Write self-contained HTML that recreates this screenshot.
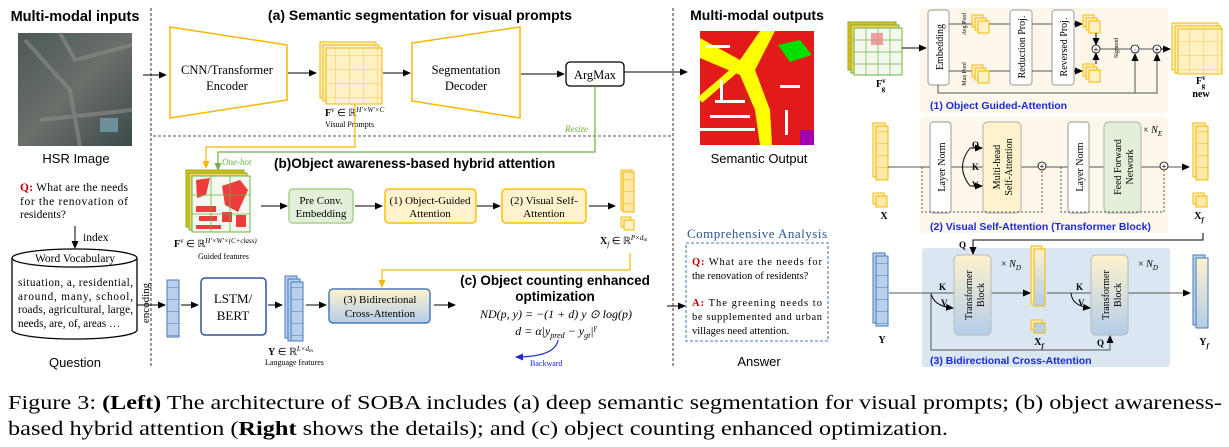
<!DOCTYPE html>
<html><head><meta charset="utf-8"><style>
html,body{margin:0;padding:0;background:#fff;}
svg{display:block;}
.s{font-family:"Liberation Serif","Times New Roman","Nimbus Roman",Times,serif;}
.a{font-family:"Liberation Sans",Arial,sans-serif;}
</style></head><body>
<svg width="1229" height="447" viewBox="0 0 1229 447" xmlns="http://www.w3.org/2000/svg">
<defs>
<marker id="ar" markerWidth="8" markerHeight="8" refX="7" refY="4" orient="auto" markerUnits="userSpaceOnUse"><path d="M0,0.5 L8,4 L0,7.5z" fill="#000"/></marker>
<marker id="arb" markerWidth="8" markerHeight="8" refX="7" refY="4" orient="auto" markerUnits="userSpaceOnUse"><path d="M0,0.5 L8,4 L0,7.5z" fill="#1a2bd6"/></marker>
<marker id="ary" markerWidth="8" markerHeight="8" refX="7" refY="4" orient="auto" markerUnits="userSpaceOnUse"><path d="M0,0.5 L8,4 L0,7.5z" fill="#f5b800"/></marker>
<marker id="arg" markerWidth="8" markerHeight="8" refX="7" refY="4" orient="auto" markerUnits="userSpaceOnUse"><path d="M0,0.5 L8,4 L0,7.5z" fill="#6cb33f"/></marker>
<linearGradient id="yb" x1="0" y1="0" x2="0" y2="1"><stop offset="0" stop-color="#fff2cc"/><stop offset="1" stop-color="#b4cde9"/></linearGradient>
<linearGradient id="hsr" x1="0" y1="0" x2="1" y2="1"><stop offset="0" stop-color="#4a5a55"/><stop offset="0.5" stop-color="#6b6f6a"/><stop offset="1" stop-color="#3c4a4c"/></linearGradient>
<pattern id="grid" width="14" height="14" patternUnits="userSpaceOnUse"><rect width="14" height="14" fill="#fff1c4"/><path d="M14,0V14H0" fill="none" stroke="#f7c948" stroke-width="1"/></pattern>
<pattern id="gridb" width="12" height="12" patternUnits="userSpaceOnUse"><rect width="12" height="12" fill="#b8d0ec"/><path d="M0,12H12" fill="none" stroke="#4a7ab8" stroke-width="1"/></pattern>
<pattern id="gridy" width="12" height="12" patternUnits="userSpaceOnUse"><rect width="12" height="12" fill="#ffe9a8"/><path d="M0,12H12" fill="none" stroke="#f5b800" stroke-width="1"/></pattern>
</defs>

<line x1="151" y1="8" x2="151" y2="368" stroke="#333" stroke-dasharray="3,2" stroke-width="1"/>
<line x1="673" y1="8" x2="673" y2="368" stroke="#333" stroke-dasharray="3,2" stroke-width="1"/>
<line x1="153" y1="136" x2="672" y2="136" stroke="#555" stroke-dasharray="3,2" stroke-width="1"/>

<text x="75" y="21" class="a" font-size="14.5" font-weight="bold" text-anchor="middle">Multi-modal inputs</text>
<rect x="18" y="33" width="114" height="113" fill="url(#hsr)"/>
<path d="M25,40 L70,90 L80,146 M60,33 L75,60 L132,45 M40,120 L132,110" stroke="#8a8d88" stroke-width="4" fill="none" opacity="0.6"/>
<rect x="100" y="118" width="18" height="14" fill="#7aa7b7" opacity="0.7"/>
<text x="76" y="163" class="a" font-size="13" text-anchor="middle">HSR Image</text>
<text class="s" font-size="11.5"><tspan x="20" y="191" textLength="108"><tspan fill="#c00000" font-weight="bold">Q:</tspan> What are the needs</tspan><tspan x="20" y="205" textLength="108">for the renovation of</tspan><tspan x="20" y="218">residents?</tspan></text>
<line x1="75" y1="226" x2="75" y2="248" stroke="#000" marker-end="url(#ar)"/>
<text x="83" y="241" class="s" font-size="11.5">index</text>
<path d="M12,258 L12,330 A62.5,9 0 0 0 137,330 L137,258" fill="#fff" stroke="#000" stroke-width="1.3"/>
<ellipse cx="74.5" cy="258" rx="62.5" ry="9" fill="#fff" stroke="#000" stroke-width="1.3"/>
<text x="75" y="262" class="s" font-size="11.5" text-anchor="middle">Word Vocabulary</text>
<text class="s" font-size="11.2"><tspan x="18" y="286" textLength="115">situation, a, residential,</tspan><tspan x="18" y="300" textLength="115">around, many, school,</tspan><tspan x="18" y="313" textLength="115">roads, agricultural, large,</tspan><tspan x="18" y="327">needs, are, of, areas …</tspan></text>
<text x="75" y="367" class="a" font-size="13" text-anchor="middle">Question</text>
<text transform="translate(149,303) rotate(-90)" class="s" font-size="11" text-anchor="middle">encoding</text>
<line x1="137" y1="305" x2="165" y2="305" stroke="#000" marker-end="url(#ar)"/>

<text x="420" y="20" class="a" font-size="14" font-weight="bold" text-anchor="middle">(a) Semantic segmentation for visual prompts</text>
<line x1="143" y1="75" x2="166" y2="75" stroke="#000" marker-end="url(#ar)"/>
<path d="M170,27 L287,45 L287,100 L170,118z" fill="#fff" stroke="#f5b800" stroke-width="1.5"/>
<text x="227" y="74" class="s" font-size="12.5" text-anchor="middle">CNN/Transformer</text>
<text x="227" y="90" class="s" font-size="12.5" text-anchor="middle">Encoder</text>
<line x1="288" y1="73" x2="316" y2="73" stroke="#000" marker-end="url(#ar)"/>
<g stroke="#f5b800" stroke-width="1">
<rect x="320" y="42" width="56" height="56" fill="#fff1c4"/><rect x="323" y="45" width="56" height="56" fill="#fff1c4"/>
<rect x="326" y="48" width="56" height="56" fill="url(#grid)"/></g>
<text x="325" y="116" class="s" font-size="10"><tspan font-weight="bold">F</tspan><tspan font-size="7" dy="-4">v</tspan><tspan dy="4"> ∈ ℝ</tspan><tspan font-size="7" dy="-4" font-style="italic">H′×W′×C</tspan></text>
<text x="325" y="127" class="s" font-size="8">Visual Prompts</text>
<line x1="383" y1="73" x2="410" y2="73" stroke="#000" marker-end="url(#ar)"/>
<path d="M412,43 L520,27 L520,118 L412,101z" fill="#fff" stroke="#f5b800" stroke-width="1.5"/>
<text x="466" y="74" class="s" font-size="12.5" text-anchor="middle">Segmentation</text>
<text x="466" y="90" class="s" font-size="12.5" text-anchor="middle">Decoder</text>
<line x1="521" y1="74" x2="564" y2="74" stroke="#000" marker-end="url(#ar)"/>
<rect x="566" y="62" width="58" height="24" rx="4" fill="#fff" stroke="#000" stroke-width="1.3"/>
<text x="595" y="79" class="s" font-size="12.5" text-anchor="middle">ArgMax</text>
<line x1="624" y1="72" x2="687" y2="72" stroke="#000" marker-end="url(#ar)"/>
<polyline points="595,86 595,152 218,152 218,170" fill="none" stroke="#6cb33f" stroke-width="1.2" marker-end="url(#arg)"/>
<text x="565" y="132" class="s" font-size="9" font-style="italic" fill="#6cb33f">Resize</text>
<polyline points="355,104 355,147 206,147 206,168" fill="none" stroke="#f5b800" stroke-width="1.2" marker-end="url(#ary)"/>
<text x="222" y="165" class="s" font-size="9" font-style="italic" fill="#6cb33f">One-hot</text>

<text x="274" y="168" class="a" font-size="13.5" font-weight="bold">(b)Object awareness-based hybrid attention</text>
<g stroke="#6cb33f" stroke-width="1">
<rect x="186" y="170" width="58" height="57" fill="#f5b800"/><rect x="189" y="173" width="58" height="57" fill="#f9cf5a"/>
<rect x="192" y="176" width="58" height="56" fill="#f4f8ef"/></g>
<g fill="#ee3b3b"><path d="M196,180 L210,178 L206,195 L197,198z"/><path d="M222,186 L240,180 L248,190 L238,212 L225,205z"/><rect x="196" y="206" width="20" height="6"/><rect x="199" y="216" width="18" height="5"/><rect x="222" y="212" width="10" height="10"/><rect x="236" y="215" width="10" height="12"/><rect x="196" y="225" width="25" height="4"/></g>
<path d="M192,195 H250 M192,214 H250 M211,176 V232 M230,176 V232" stroke="#6cb33f" stroke-width="0.8"/>
<text x="174" y="247" class="s" font-size="10"><tspan font-weight="bold">F</tspan><tspan font-size="7" dy="-4">v</tspan><tspan dy="4"> ∈ ℝ</tspan><tspan font-size="7" dy="-4" font-style="italic">H′×W′×(C+class)</tspan></text>
<text x="198" y="259" class="s" font-size="8">Guided features</text>
<line x1="261" y1="206" x2="287" y2="206" stroke="#000" marker-end="url(#ar)"/>
<rect x="289" y="189" width="64" height="34" rx="4" fill="#e2efd9" stroke="#a9d18e" stroke-width="1.5"/>
<text x="321" y="204" class="s" font-size="11" text-anchor="middle">Pre Conv.</text>
<text x="321" y="217" class="s" font-size="11" text-anchor="middle">Embedding</text>
<line x1="355" y1="206" x2="382" y2="206" stroke="#000" marker-end="url(#ar)"/>
<rect x="385" y="189" width="91" height="34" rx="4" fill="#fff2cc" stroke="#ffc000" stroke-width="1.5"/>
<text x="430" y="204" class="s" font-size="11" text-anchor="middle">(1) Object-Guided</text>
<text x="430" y="217" class="s" font-size="11" text-anchor="middle">Attention</text>
<line x1="477" y1="206" x2="500" y2="206" stroke="#000" marker-end="url(#ar)"/>
<rect x="502" y="189" width="84" height="34" rx="4" fill="#fff2cc" stroke="#ffc000" stroke-width="1.5"/>
<text x="544" y="204" class="s" font-size="11" text-anchor="middle">(2) Visual Self-</text>
<text x="544" y="217" class="s" font-size="11" text-anchor="middle">Attention</text>
<line x1="589" y1="206" x2="615" y2="206" stroke="#000" marker-end="url(#ar)"/>
<g stroke="#f5b800"><rect x="621" y="170" width="11" height="40" fill="#fff1c4"/><rect x="623" y="172" width="11" height="40" fill="url(#gridy)"/>
<rect x="621" y="217" width="10" height="10" fill="#fff1c4"/><rect x="624" y="220" width="10" height="10" fill="#fff1c4"/></g>
<text x="600" y="244" class="s" font-size="10"><tspan font-weight="bold">X</tspan><tspan font-size="7" dy="3" font-style="italic">f</tspan><tspan dy="-3"> ∈ ℝ</tspan><tspan font-size="7" dy="-4" font-style="italic">P×d</tspan><tspan font-size="5" dy="1">m</tspan></text>
<polyline points="630,253 630,270 382,270 382,287" fill="none" stroke="#f5b800" stroke-width="1.2" marker-end="url(#ary)"/>

<rect x="167" y="280" width="12" height="57" fill="url(#gridb)" stroke="#4a7ab8"/>
<line x1="181" y1="305" x2="198" y2="305" stroke="#000" marker-end="url(#ar)"/>
<rect x="201" y="278" width="65" height="57" rx="4" fill="#fff" stroke="#2f5597" stroke-width="1.5"/>
<text x="233" y="303" class="s" font-size="13" text-anchor="middle">LSTM/</text>
<text x="233" y="320" class="s" font-size="13" text-anchor="middle">BERT</text>
<line x1="268" y1="305" x2="282" y2="305" stroke="#000" marker-end="url(#ar)"/>
<g stroke="#4a7ab8"><rect x="285" y="276" width="12" height="62" fill="#b8d0ec"/><rect x="288" y="279" width="12" height="62" fill="#b8d0ec"/><rect x="291" y="282" width="12" height="59" fill="url(#gridb)"/></g>
<text x="268" y="355" class="s" font-size="10"><tspan font-weight="bold">Y</tspan><tspan> ∈ ℝ</tspan><tspan font-size="7" dy="-4" font-style="italic">L×d</tspan><tspan font-size="5" dy="1">m</tspan></text>
<text x="265" y="365" class="s" font-size="8">Language features</text>
<line x1="306" y1="305" x2="326" y2="305" stroke="#000" marker-end="url(#ar)"/>
<rect x="329" y="289" width="101" height="34" rx="4" fill="url(#yb)" stroke="#4a7ab8" stroke-width="1.5"/>
<text x="380" y="303" class="s" font-size="11" text-anchor="middle">(3) Bidirectional</text>
<text x="380" y="317" class="s" font-size="11" text-anchor="middle">Cross-Attention</text>
<line x1="434" y1="305" x2="455" y2="305" stroke="#000" marker-end="url(#ar)"/>

<text x="555" y="285" class="a" font-size="13.5" font-weight="bold" text-anchor="middle">(c) Object counting enhanced</text>
<text x="555" y="301" class="a" font-size="13.5" font-weight="bold" text-anchor="middle">optimization</text>
<text x="556" y="318" class="s" font-size="12" font-style="italic" text-anchor="middle">ND(p, y) = −(1 + d) y ⊙ log(p)</text>
<text x="556" y="335" class="s" font-size="12" font-style="italic" text-anchor="middle">d = α|y<tspan font-size="8" dy="3">pred</tspan><tspan dy="-3"> − y</tspan><tspan font-size="8" dy="3">gt</tspan><tspan dy="-3">|</tspan><tspan font-size="8" dy="-5">γ</tspan></text>
<path d="M558,340 Q555,357 516,357" fill="none" stroke="#1a2bd6" stroke-width="1.2" marker-end="url(#arb)"/>
<text x="530" y="366" class="s" font-size="8" fill="#1a2bd6">Backward</text>
<line x1="667" y1="306" x2="685" y2="306" stroke="#000" marker-end="url(#ar)"/>

<text x="757" y="20" class="a" font-size="14" font-weight="bold" text-anchor="middle">Multi-modal outputs</text>
<rect x="700" y="31" width="114" height="114" fill="#e31a1a"/>
<path d="M700,38 L740,60 L760,31 L775,31 L755,70 L770,110 L772,145 L760,145 L755,110 L740,75 L700,58z" fill="#ffff00"/>
<path d="M735,70 L700,100" stroke="#ffff00" stroke-width="7"/>
<g fill="#fff"><rect x="715" y="100" width="30" height="3"/><rect x="710" y="115" width="40" height="3"/><rect x="780" y="85" width="20" height="3"/><rect x="700" y="128" width="55" height="3"/><rect x="785" y="110" width="3" height="25"/><rect x="720" y="80" width="3" height="20"/><rect x="705" y="45" width="25" height="3"/></g>
<path d="M778,45 L800,40 L812,55 L790,62z" fill="#00e000"/>
<rect x="800" y="130" width="14" height="15" fill="#a000b0"/>
<text x="759" y="163" class="a" font-size="13" text-anchor="middle">Semantic Output</text>
<text x="687" y="238" class="s" font-size="13" fill="#2f5597" textLength="140">Comprehensive Analysis</text>
<rect x="686" y="243" width="142" height="98" fill="none" stroke="#4a7ab8" stroke-dasharray="3,2" stroke-width="1.1"/>
<text class="s" font-size="10.5"><tspan x="692" y="265" textLength="130"><tspan fill="#c00000" font-weight="bold">Q:</tspan> What are the needs for</tspan><tspan x="692" y="279">the renovation of residents?</tspan>
<tspan x="692" y="306" textLength="130"><tspan fill="#c00000" font-weight="bold">A:</tspan> The greening needs to</tspan><tspan x="692" y="320" textLength="130">be supplemented and urban</tspan><tspan x="692" y="334">villages need attention.</tspan></text>
<text x="759" y="366" class="a" font-size="13" text-anchor="middle">Answer</text>

<rect x="920" y="8" width="248" height="105" rx="3" fill="#fdf6ea"/>
<g stroke="#6cb33f"><rect x="848" y="22" width="48" height="48" fill="#f5b800"/><rect x="851" y="25" width="48" height="48" fill="#f9cf5a"/><rect x="854" y="28" width="48" height="47" fill="#f4f8ef"/>
<path d="M854,40 H902 M854,52 H902 M854,64 H902 M866,28 V75 M878,28 V75 M890,28 V75" stroke-width="0.7"/></g>
<rect x="871" y="33" width="12" height="12" fill="#e88" opacity="0.8"/>
<text x="876" y="87" class="s" font-size="10" font-weight="bold">F<tspan font-size="7" dy="-4">v</tspan><tspan font-size="7" dx="-4" dy="8">g</tspan></text>
<line x1="902" y1="48" x2="926" y2="48" stroke="#000" marker-end="url(#ar)"/>
<g fill="#fff" stroke="#aaa" stroke-width="1.2">
<rect x="928" y="10" width="21" height="75" rx="3"/><rect x="1010" y="10" width="22" height="75" rx="3"/><rect x="1052" y="10" width="22" height="75" rx="3"/></g>
<text transform="translate(943,47) rotate(-90)" class="s" font-size="10" text-anchor="middle">Embedding</text>
<text transform="translate(1025,47) rotate(-90)" class="s" font-size="10" text-anchor="middle">Reduction Proj.</text>
<text transform="translate(1067,47) rotate(-90)" class="s" font-size="10" text-anchor="middle">Reversed Proj.</text>
<path d="M949,24 H1010 M949,71 H1010 M1032,24 H1052 M1032,71 H1052" stroke="#555" stroke-width="1"/>
<text transform="translate(966,24) rotate(-90)" class="s" font-size="6" text-anchor="middle">Avg Pool</text>
<text transform="translate(966,74) rotate(-90)" class="s" font-size="6" text-anchor="middle">Max Pool</text>
<g stroke="#f5b800" fill="#fff1c4"><rect x="972" y="15" width="11" height="12"/><rect x="975" y="18" width="11" height="12"/><rect x="978" y="21" width="11" height="12"/>
<rect x="972" y="65" width="11" height="12"/><rect x="975" y="68" width="11" height="12"/><rect x="978" y="71" width="11" height="12"/>
<rect x="1083" y="15" width="11" height="12"/><rect x="1086" y="18" width="11" height="12"/><rect x="1089" y="21" width="11" height="12"/>
<rect x="1083" y="64" width="11" height="12"/><rect x="1086" y="67" width="11" height="12"/><rect x="1089" y="70" width="11" height="12"/></g>
<line x1="1074" y1="24" x2="1082" y2="24" stroke="#000" marker-end="url(#ar)"/>
<line x1="1074" y1="71" x2="1082" y2="71" stroke="#000" marker-end="url(#ar)"/>
<line x1="1096" y1="33" x2="1096" y2="45" stroke="#000" marker-end="url(#ar)"/>
<line x1="1096" y1="64" x2="1096" y2="53" stroke="#000" marker-end="url(#ar)"/>
<g fill="#fff" stroke="#000" stroke-width="0.8"><circle cx="1096" cy="49" r="4"/><circle cx="1135" cy="49" r="4"/><circle cx="1157" cy="49" r="4"/></g>
<text x="1096" y="52" font-size="8" text-anchor="middle" class="a">+</text><text x="1135" y="52" font-size="8" text-anchor="middle" class="a">·</text><text x="1157" y="52" font-size="8" text-anchor="middle" class="a">+</text>
<path d="M1100,49 H1131 M1139,49 H1153" stroke="#555"/>
<text transform="translate(1118,48) rotate(-90)" class="s" font-size="6" text-anchor="middle">Sigmoid</text>
<polyline points="938,85 938,93 1157,93 1157,54" fill="none" stroke="#555" marker-end="url(#ar)"/>
<line x1="1135" y1="93" x2="1135" y2="54" stroke="#555" marker-end="url(#ar)"/>
<line x1="1161" y1="49" x2="1170" y2="49" stroke="#000" marker-end="url(#ar)"/>
<g stroke="#f5b800"><rect x="1172" y="23" width="46" height="47" fill="#fff1c4"/><rect x="1175" y="26" width="46" height="47" fill="#fff1c4"/><rect x="1178" y="29" width="44" height="45" fill="url(#grid)"/></g>
<text x="1196" y="84" class="s" font-size="10" font-weight="bold">F<tspan font-size="7" dy="-4">v</tspan><tspan font-size="7" dx="-4" dy="8">g</tspan></text>
<text x="1201" y="97" class="s" font-size="10" font-weight="bold" text-anchor="middle">new</text>
<text x="930" y="109" class="a" font-size="10.5" font-weight="bold" fill="#1a2bd6">(1) Object Guided-Attention</text>

<rect x="920" y="117" width="248" height="116" rx="3" fill="#fdf6ea"/>
<g stroke="#f5b800"><rect x="873" y="123" width="12" height="54" fill="#fff1c4"/><rect x="876" y="126" width="12" height="54" fill="url(#gridy)"/>
<rect x="873" y="193" width="11" height="11" fill="#fff1c4"/><rect x="876" y="196" width="11" height="11" fill="#ffe9a8"/>
<rect x="1193" y="123" width="12" height="54" fill="#fff1c4"/><rect x="1196" y="126" width="12" height="54" fill="url(#gridy)"/>
<rect x="1193" y="193" width="11" height="11" fill="#fff1c4"/><rect x="1196" y="196" width="11" height="11" fill="#ffe9a8"/></g>
<text x="884" y="219" class="s" font-size="10" font-weight="bold" text-anchor="middle">X</text>
<text x="1199" y="219" class="s" font-size="10" font-weight="bold" text-anchor="middle">X<tspan font-size="7" dy="3" font-style="italic">f</tspan></text>
<line x1="888" y1="167" x2="1189" y2="167" stroke="#555" marker-end="url(#ar)"/>
<rect x="930" y="122" width="21" height="91" rx="3" fill="#fff" stroke="#aaa" stroke-width="1.2"/>
<text transform="translate(945,167) rotate(-90)" class="s" font-size="10" text-anchor="middle">Layer Norm</text>
<rect x="983" y="122" width="38" height="91" rx="5" fill="#fff2cc" stroke="#bbb" stroke-width="1.2"/>
<text transform="translate(1000,167) rotate(-90)" class="s" font-size="10" text-anchor="middle">Multi-head</text>
<text transform="translate(1012,167) rotate(-90)" class="s" font-size="10" text-anchor="middle">Self-Attention</text>
<path d="M970,148 Q955,167 970,186" fill="none" stroke="#000"/>
<line x1="970" y1="148" x2="982" y2="148" stroke="#000" marker-end="url(#ar)"/><line x1="970" y1="186" x2="982" y2="186" stroke="#000" marker-end="url(#ar)"/>
<text x="972" y="148" class="s" font-size="9" font-weight="bold">Q</text><text x="972" y="170" class="s" font-size="9" font-weight="bold">K</text><text x="972" y="188" class="s" font-size="9" font-weight="bold">V</text>
<rect x="1068" y="122" width="21" height="91" rx="3" fill="#fff" stroke="#aaa" stroke-width="1.2"/>
<text transform="translate(1083,167) rotate(-90)" class="s" font-size="10" text-anchor="middle">Layer Norm</text>
<rect x="1104" y="122" width="37" height="91" rx="5" fill="#e2efd9" stroke="#bbb" stroke-width="1.2"/>
<text transform="translate(1121,167) rotate(-90)" class="s" font-size="10" text-anchor="middle">Feed Forward</text>
<text transform="translate(1133,167) rotate(-90)" class="s" font-size="10" text-anchor="middle">Network</text>
<text x="1143" y="133" class="s" font-size="10">× <tspan font-style="italic">N</tspan><tspan font-size="7" dy="3" font-style="italic">E</tspan></text>
<g fill="#fff" stroke="#000" stroke-width="0.8"><circle cx="1042" cy="166" r="4"/><circle cx="1164" cy="166" r="4"/></g>
<text x="1042" y="169" font-size="8" text-anchor="middle" class="a">+</text><text x="1164" y="169" font-size="8" text-anchor="middle" class="a">+</text>
<polyline points="922,167 922,212 1042,212 1042,171" fill="none" stroke="#555" stroke-dasharray="2,2"/>
<polyline points="1061,167 1061,212 1164,212 1164,171" fill="none" stroke="#555" stroke-dasharray="2,2"/>
<text x="930" y="230" class="a" font-size="10.5" font-weight="bold" fill="#1a2bd6">(2) Visual Self-Attention (Transformer Block)</text>

<rect x="922" y="248" width="248" height="119" rx="3" fill="#dae6f2"/>
<polyline points="1203,233 1203,240 973,240 973,254" fill="none" stroke="#000" marker-end="url(#ar)"/>
<text x="959" y="248" class="s" font-size="9" font-weight="bold">Q</text>
<g stroke="#4a7ab8"><rect x="873" y="253" width="12" height="70" fill="#b8d0ec"/><rect x="876" y="256" width="12" height="70" fill="url(#gridb)"/>
<rect x="1193" y="255" width="12" height="70" fill="#b8d0ec"/><rect x="1196" y="258" width="12" height="70" fill="url(#yb)"/></g>
<text x="882" y="343" class="s" font-size="10" font-weight="bold" text-anchor="middle">Y</text>
<text x="1204" y="345" class="s" font-size="10" font-weight="bold" text-anchor="middle">Y<tspan font-size="7" dy="3" font-style="italic">f</tspan></text>
<line x1="889" y1="293" x2="1030" y2="293" stroke="#555" marker-end="url(#ar)"/>
<line x1="1047" y1="293" x2="1190" y2="293" stroke="#555" marker-end="url(#ar)"/>
<rect x="954" y="255" width="37" height="80" rx="5" fill="url(#yb)" stroke="#bbb"/>
<text transform="translate(972,295) rotate(-90)" class="s" font-size="10" text-anchor="middle">Transformer</text>
<text transform="translate(984,295) rotate(-90)" class="s" font-size="10" text-anchor="middle">Block</text>
<rect x="1091" y="255" width="37" height="80" rx="5" fill="url(#yb)" stroke="#bbb"/>
<text transform="translate(1109,295) rotate(-90)" class="s" font-size="10" text-anchor="middle">Transformer</text>
<text transform="translate(1121,295) rotate(-90)" class="s" font-size="10" text-anchor="middle">Block</text>
<text x="1001" y="267" class="s" font-size="10">× <tspan font-style="italic">N</tspan><tspan font-size="7" dy="3" font-style="italic">D</tspan></text>
<text x="1138" y="267" class="s" font-size="10">× <tspan font-style="italic">N</tspan><tspan font-size="7" dy="3" font-style="italic">D</tspan></text>
<g stroke="#f5b800"><rect x="1031" y="246" width="11" height="58" fill="#fff1c4"/><rect x="1034" y="249" width="11" height="57" fill="url(#yb)"/>
<rect x="1031" y="320" width="11" height="10" fill="#fff1c4"/><rect x="1034" y="323" width="11" height="10" fill="#b8d0ec"/></g>
<text x="1039" y="345" class="s" font-size="10" font-weight="bold" text-anchor="middle">X<tspan font-size="7" dy="3" font-style="italic">f</tspan></text>
<path d="M931,293 Q933,306 953,308" fill="none" stroke="#000" marker-end="url(#ar)"/>
<path d="M1071,293 Q1072,306 1090,308" fill="none" stroke="#000" marker-end="url(#ar)"/>
<text x="939" y="290" class="s" font-size="9" font-weight="bold">K</text><text x="941" y="306" class="s" font-size="9" font-weight="bold">V</text>
<text x="1076" y="290" class="s" font-size="9" font-weight="bold">K</text><text x="1078" y="306" class="s" font-size="9" font-weight="bold">V</text>
<polyline points="931,293 931,350 1110,350 1110,336" fill="none" stroke="#555" marker-end="url(#ar)"/>
<text x="1097" y="346" class="s" font-size="9" font-weight="bold">Q</text>
<text x="930" y="364" class="a" font-size="10.5" font-weight="bold" fill="#1a2bd6">(3) Bidirectional Cross-Attention</text>

<text x="8" y="409" class="s" font-size="20" textLength="1214" lengthAdjust="spacingAndGlyphs">Figure 3: <tspan font-weight="bold">(Left)</tspan> The architecture of SOBA includes (a) deep semantic segmentation for visual prompts; (b) object awareness-</text>
<text x="8" y="435" class="s" font-size="20" textLength="940" lengthAdjust="spacingAndGlyphs">based hybrid attention (<tspan font-weight="bold">Right</tspan> shows the details); and (c) object counting enhanced optimization.</text>
</svg>
</body></html>
